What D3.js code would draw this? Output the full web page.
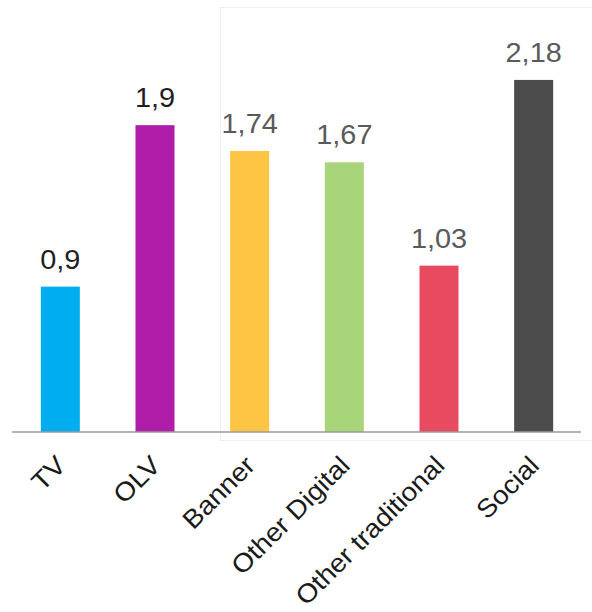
<!DOCTYPE html>
<html>
<head>
<meta charset="utf-8">
<script src="https://cdn.jsdelivr.net/npm/d3@7"></script>
<style>
  html, body { margin: 0; padding: 0; background: #ffffff; }
  svg { display: block; font-family: "Liberation Sans", Arial, sans-serif; }
</style>
</head>
<body>
<svg id="chart" width="592" height="612"></svg>
<script>
// ---- data ----
const categories = ["TV", "OLV", "Banner", "Other Digital", "Other traditional", "Social"];
const values = [0.9, 1.9, 1.74, 1.67, 1.03, 2.18];
const valueLabels = ["0,9", "1,9", "1,74", "1,67", "1,03", "2,18"];

// ---- styles ----
const barColors = ["#00aeef", "#b01ea9", "#fec544", "#a8d47a", "#e84a5f", "#4b4b4b"];
const labelColors = ["#1f1f1f", "#1f1f1f", "#5a5a5a", "#5a5a5a", "#5a5a5a", "#5a5a5a"];

const svg = d3.select("#chart");

// faint frame (as in reference)
svg.append("rect")
  .attr("x", 220.5).attr("y", 7.5)
  .attr("width", 380).attr("height", 433)
  .attr("fill", "none")
  .attr("stroke", "#eeeeee")
  .attr("stroke-width", 1);

const x = d3.scaleBand()
  .domain(categories)
  .range([13, 581])
  .paddingInner(0.588)
  .paddingOuter(0.294);

const y = d3.scaleLinear()
  .domain([0, 2.5])
  .range([432, 28.25]);

const data = categories.map((c, i) => ({ cat: c, v: values[i], label: valueLabels[i], i }));

svg.append("g").selectAll("rect")
  .data(data)
  .join("rect")
  .attr("x", d => x(d.cat))
  .attr("y", d => y(d.v))
  .attr("width", x.bandwidth())
  .attr("height", d => y(0) - y(d.v))
  .attr("fill", d => barColors[d.i]);

// value labels
svg.append("g").selectAll("text")
  .data(data)
  .join("text")
  .attr("transform", d => `translate(${x(d.cat) + x.bandwidth() / 2},${y(d.v) - 18}) scale(1.07,1)`)
  .attr("text-anchor", "middle")
  .attr("font-size", 27)
  .attr("fill", d => labelColors[d.i])
  .text(d => d.label);

// x axis
const xAxis = d3.axisBottom(x).tickSize(0).tickPadding(0);
const gx = svg.append("g")
  .attr("transform", "translate(0,432)")
  .call(xAxis);
gx.select(".domain")
  .attr("d", "M12,0H581")
  .attr("stroke", "#9a9a9a")
  .attr("stroke-width", 1.5);
gx.selectAll(".tick text")
  .attr("font-size", 26)
  .attr("font-family", "Liberation Sans, Arial, sans-serif")
  .attr("fill", "#1a1a1a")
  .attr("text-anchor", "end")
  .attr("dy", 0)
  .attr("y", 0)
  .attr("transform", "translate(7,35) rotate(-45) scale(1.07,1)");
</script>
</body>
</html>
